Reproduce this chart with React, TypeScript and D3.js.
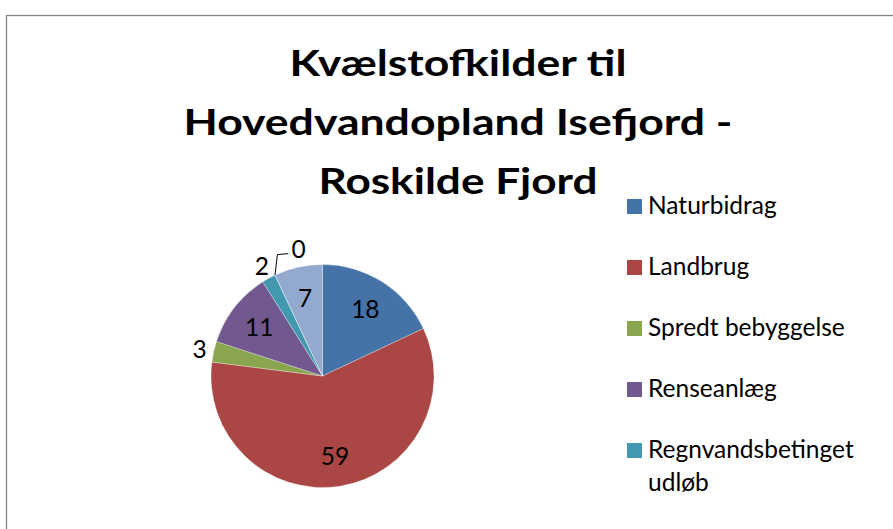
import React from "react";
import * as d3 from "d3";

const titleLines = ["Kvælstofkilder til", "Hovedvandopland Isefjord -", "Roskilde Fjord"];
const categories = [
  "Naturbidrag",
  "Landbrug",
  "Spredt bebyggelse",
  "Renseanlæg",
  "Regnvandsbetinget udløb",
  "Industri",
  "Atmosfærisk deposition",
];
const values = [18, 59, 3, 11, 2, 0, 7];
const colors = ["#4572A7", "#AA4643", "#89A54E", "#71588F", "#4198AF", "#DB843D", "#93A9CF"];
const legendLines = [
  ["Naturbidrag"],
  ["Landbrug"],
  ["Spredt bebyggelse"],
  ["Renseanlæg"],
  ["Regnvandsbetinget", "udløb"],
  ["Industri"],
  ["Atmosfærisk", "deposition"],
];

const W = 893;
const H = 529;
const FONT = "Lato, 'Open Sans', sans-serif";

export default function App() {
  const cx = 322.5;
  const cy = 376;
  const R = 111.5;
  const pie = d3.pie<number>().sort(null).value((d) => d).startAngle(0).endAngle(2 * Math.PI);
  const arcs = pie(values);
  const arc = d3.arc<d3.PieArcDatum<number>>().innerRadius(0).outerRadius(R);
  const inArc = d3.arc<d3.PieArcDatum<number>>().innerRadius(80).outerRadius(80);
  const outArc = d3.arc<d3.PieArcDatum<number>>().innerRadius(126).outerRadius(126);

  const titleWidths = [337, 549, 279];
  const titleBase = [76, 135, 194];

  // legend layout (the chart area continues below the visible window; entries past it are not shown)
  let ly = 199;
  const legendItems = categories.map((c, i) => {
    const lines = legendLines[i];
    const item = { y: ly, lines, color: colors[i] };
    ly += 61 + (lines.length - 1) * 33;
    return item;
  }).filter((it) => it.y + 15 < H);

  return (
    <svg
      width={W}
      height={H}
      style={{ position: "absolute", left: 0, top: 0, background: "#fff" }}
      fontFamily={FONT}
    >
      <rect x={0} y={0} width={W} height={H} fill="#fff" />
      <rect x={6.5} y={15.5} width={W + 20} height={H + 20} fill="#fff" stroke="#868686" strokeWidth={1.3} />
      {titleLines.map((t, i) => (
        <text
          key={i}
          x={458}
          y={titleBase[i]}
          textAnchor="middle"
          fontSize={37}
          fontWeight="bold"
          textLength={titleWidths[i]}
          lengthAdjust="spacingAndGlyphs"
          fill="#000"
        >
          {t}
        </text>
      ))}
      <g transform={`translate(${cx},${cy})`}>
        {arcs.map((a, i) => (
          <path key={i} d={arc(a) || ""} fill={colors[i]} stroke="#fff" strokeWidth={0.3} />
        ))}
        {arcs.map((a, i) => {
          const v = values[i];
          if (v >= 5) {
            const [x, y] = inArc.centroid(a);
            return (
              <text key={"l" + i} x={x} y={y} textAnchor="middle" dominantBaseline="central" fontSize={24.5} fill="#000">
                {v}
              </text>
            );
          } else if (v > 0) {
            const [x, y] = outArc.centroid(a);
            return (
              <text key={"l" + i} x={x} y={y} textAnchor="middle" dominantBaseline="central" fontSize={24.5} fill="#000">
                {v}
              </text>
            );
          } else {
            const ang = a.startAngle;
            const sx = R * Math.sin(ang);
            const sy = -R * Math.cos(ang);
            const er = R + 18;
            const ea = ang + 0.084;
            const ex = er * Math.sin(ea);
            const ey = -er * Math.cos(ea);
            return (
              <g key={"l" + i}>
                <polyline
                  points={`${sx},${sy} ${ex},${ey} ${ex + 11},${ey - 1}`}
                  fill="none"
                  stroke="#000"
                  strokeWidth={1}
                />
                <text x={ex + 14} y={ey - 6} textAnchor="start" dominantBaseline="central" fontSize={24.5} fill="#000">
                  {v}
                </text>
              </g>
            );
          }
        })}
      </g>
      {legendItems.map((it, i) => (
        <g key={"lg" + i}>
          <rect x={627} y={it.y} width={15} height={15} fill={it.color} />
          {it.lines.map((ln, j) => (
            <text key={j} x={648} y={it.y + 15 + j * 33} fontSize={24.5} fill="#000">
              {ln}
            </text>
          ))}
        </g>
      ))}
    </svg>
  );
}
